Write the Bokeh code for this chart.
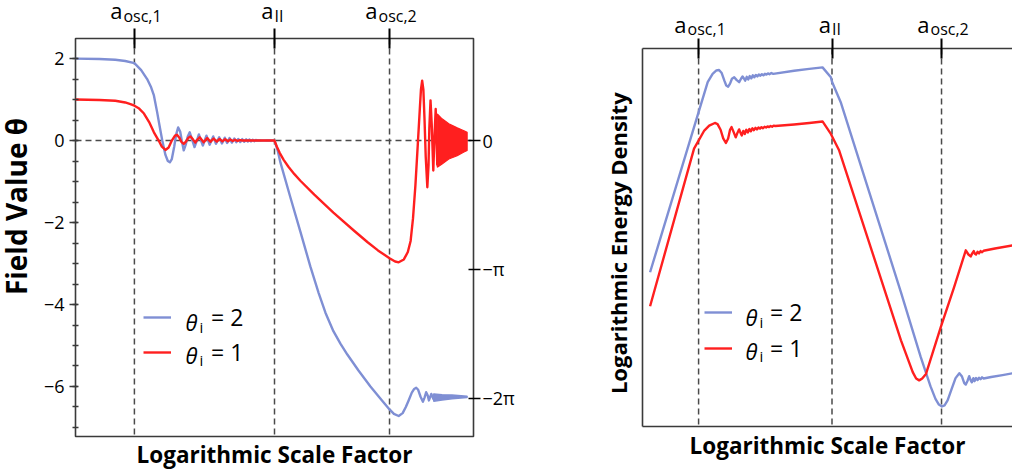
import numpy as np
from bokeh.plotting import figure
from bokeh.models import (Range1d, LinearAxis, FixedTicker, CustomJSTickFormatter,
                          Span, Label, Legend, LegendItem)
from bokeh.layouts import row, column
from bokeh.embed import file_html
from bokeh.resources import INLINE

# ---------------- data ----------------
transition_x = [0.148, 0.500, 0.789]
transition_sub = ["osc,1", "II", "osc,2"]
legend_values = ["= 2", "= 1"]

# left panel: field value theta
field_x_blue = [0.000, 0.060, 0.100, 0.125, 0.148, 0.165, 0.180, 0.190, 0.197, 0.205, 0.212, 0.218,
                0.226, 0.232, 0.237, 0.242, 0.248, 0.253, 0.258, 0.263, 0.267, 0.272, 0.277, 0.282,
                0.287, 0.293, 0.299, 0.305, 0.310, 0.315, 0.320, 0.329, 0.337, 0.346, 0.353, 0.361,
                0.368, 0.375, 0.381, 0.387, 0.393, 0.399, 0.404, 0.409, 0.414, 0.419, 0.424, 0.429,
                0.433, 0.437, 0.441, 0.445, 0.449, 0.453, 0.457, 0.500,
                0.508, 0.515, 0.540, 0.565, 0.590, 0.611, 0.628, 0.648, 0.666, 0.683, 0.711, 0.741,
                0.769, 0.789, 0.800, 0.812, 0.822, 0.830, 0.837, 0.845, 0.851, 0.856, 0.861, 0.867,
                0.873, 0.877, 0.881, 0.885, 0.888, 0.891, 0.894, 0.897, 0.900]
field_theta_blue = [2.00, 1.99, 1.97, 1.94, 1.89, 1.72, 1.50, 1.30, 1.10, 0.70, 0.32, 0.00,
                    -0.35, -0.50, -0.53, -0.45, -0.15, 0.15, 0.32, 0.22, 0.00, -0.24, -0.10, 0.10,
                    0.20, 0.02, -0.16, 0.00, 0.15, 0.01, -0.12, 0.12, -0.10, 0.10, -0.08, 0.08,
                    -0.07, 0.07, -0.06, 0.06, -0.05, 0.05, -0.04, 0.04, -0.035, 0.035, -0.03, 0.03,
                    -0.025, 0.025, -0.02, 0.02, -0.015, 0.015, 0.00, 0.00,
                    -0.24, -0.54, -1.39, -2.22, -3.07, -3.72, -4.20, -4.65, -4.96, -5.22, -5.61, -6.00,
                    -6.33, -6.56, -6.67, -6.72, -6.65, -6.50, -6.34, -6.15, -6.06, -6.03, -6.08, -6.25,
                    -6.37, -6.27, -6.14, -6.22, -6.34, -6.26, -6.18, -6.25, -6.32]
# dense late oscillation band of the blue curve (envelope)
band_x_blue = [0.900, 0.921, 0.946, 0.984]
band_upper_blue = [-6.18, -6.20, -6.21, -6.24]
band_lower_blue = [-6.36, -6.33, -6.30, -6.27]

field_x_red = [0.000, 0.060, 0.100, 0.125, 0.138, 0.148, 0.160, 0.172, 0.185, 0.197, 0.209, 0.217,
               0.226, 0.234, 0.242, 0.250, 0.255, 0.261, 0.266, 0.272, 0.278, 0.283, 0.289, 0.295,
               0.301, 0.306, 0.312, 0.322, 0.331, 0.339, 0.347, 0.355, 0.362, 0.369, 0.376, 0.383,
               0.389, 0.395, 0.401, 0.407, 0.413, 0.420, 0.500,
               0.506, 0.513, 0.523, 0.535, 0.550, 0.565, 0.600, 0.648, 0.700, 0.734, 0.760, 0.789,
               0.803, 0.812, 0.825, 0.835, 0.842, 0.848, 0.854, 0.860, 0.865, 0.868, 0.871, 0.874,
               0.877, 0.880, 0.884, 0.887, 0.889, 0.892, 0.895, 0.899, 0.902, 0.905, 0.907, 0.909]
field_theta_red = [1.00, 0.99, 0.97, 0.93, 0.89, 0.85, 0.78, 0.66, 0.45, 0.20, 0.00, -0.15,
                   -0.23, -0.17, 0.00, 0.12, 0.14, 0.07, -0.03, -0.08, -0.02, 0.06, 0.10, 0.03,
                   -0.05, 0.02, 0.08, -0.04, 0.06, -0.03, 0.05, -0.025, 0.04, -0.02, 0.03, -0.015,
                   0.025, -0.01, 0.02, -0.01, 0.01, 0.00, 0.00,
                   -0.15, -0.30, -0.47, -0.64, -0.82, -0.98, -1.32, -1.76, -2.20, -2.48, -2.68, -2.87,
                   -2.95, -2.97, -2.90, -2.72, -2.45, -1.90, -1.10, -0.10, 0.75, 1.25, 1.46, 1.25,
                   0.50, -0.40, -1.14, -0.60, 0.30, 0.98, 0.40, -0.73, 0.10, 0.77, 0.10, -0.61]
# dense late oscillation "fan" of the red curve (envelope)
fan_x_red = [0.909, 0.921, 0.938, 0.959, 0.976, 0.984]
fan_upper_red = [0.65, 0.53, 0.41, 0.31, 0.24, 0.20]
fan_lower_red = [-0.65, -0.57, -0.45, -0.37, -0.28, -0.24]

# right panel: logarithmic energy density (arbitrary units 0..10)
energy_x_blue = [0.020, 0.172, 0.185, 0.195, 0.202, 0.209, 0.216, 0.221, 0.226, 0.231, 0.236, 0.242,
                 0.248, 0.255, 0.260, 0.264, 0.268, 0.271, 0.275, 0.279, 0.283, 0.287, 0.291, 0.295,
                 0.299, 0.303, 0.307, 0.311, 0.315, 0.319, 0.323, 0.327, 0.331, 0.335, 0.340, 0.345,
                 0.400, 0.440, 0.475, 0.497, 0.500, 0.523, 0.682, 0.734, 0.760, 0.773, 0.782, 0.790,
                 0.797, 0.805, 0.816, 0.826, 0.836, 0.843, 0.849, 0.853, 0.858, 0.862, 0.866, 0.869,
                 0.873, 0.876, 0.880, 0.884, 0.888, 0.892, 0.896, 0.900, 0.920, 0.950, 0.977]
energy_blue = [4.08, 9.11, 9.33, 9.42, 9.43, 9.35, 9.15, 9.02, 8.99, 9.07, 9.20, 9.24,
               9.17, 9.11, 9.20, 9.26, 9.20, 9.15, 9.25, 9.18, 9.27, 9.21, 9.29, 9.24,
               9.30, 9.26, 9.31, 9.28, 9.32, 9.29, 9.33, 9.31, 9.34, 9.32, 9.35, 9.33,
               9.41, 9.46, 9.50, 9.24, 9.12, 8.58, 3.55, 1.84, 1.06, 0.73, 0.58, 0.53,
               0.56, 0.69, 1.00, 1.28, 1.41, 1.32, 1.15, 1.11, 1.22, 1.33, 1.22, 1.17,
               1.28, 1.20, 1.28, 1.23, 1.29, 1.25, 1.30, 1.27, 1.31, 1.36, 1.41]
energy_x_red = [0.020, 0.136, 0.163, 0.176, 0.191, 0.198, 0.206, 0.213, 0.220, 0.226, 0.231, 0.235,
                0.240, 0.246, 0.251, 0.255, 0.259, 0.262, 0.266, 0.270, 0.274, 0.278, 0.282, 0.286,
                0.290, 0.294, 0.298, 0.302, 0.306, 0.310, 0.314, 0.318, 0.322, 0.326, 0.330, 0.334,
                0.338, 0.342, 0.346, 0.350, 0.400, 0.440, 0.475, 0.497, 0.519, 0.682, 0.713, 0.722,
                0.730, 0.738, 0.748, 0.787, 0.822, 0.853, 0.860, 0.866, 0.870, 0.874, 0.877, 0.880,
                0.884, 0.888, 0.892, 0.896, 0.900, 0.930, 0.977]
energy_red = [3.18, 7.35, 7.83, 7.96, 8.03, 8.00, 7.85, 7.62, 7.50, 7.62, 7.85, 7.92,
              7.80, 7.65, 7.78, 7.86, 7.76, 7.70, 7.82, 7.74, 7.85, 7.78, 7.87, 7.81,
              7.89, 7.84, 7.90, 7.86, 7.91, 7.88, 7.92, 7.89, 7.93, 7.91, 7.94, 7.92,
              7.95, 7.93, 7.96, 7.95, 7.99, 8.03, 8.07, 7.74, 7.30, 2.28, 1.44, 1.27,
              1.22, 1.27, 1.39, 2.63, 3.68, 4.66, 4.55, 4.50, 4.58, 4.64, 4.57, 4.55,
              4.62, 4.58, 4.64, 4.61, 4.65, 4.71, 4.79]

# ---------------- style ----------------
FONT = "Open Sans"
BLUE = "#7f8fd4"
RED = "#ff1f1f"
FRAME = "#3a3a3a"
DASH = "#4a4a4a"
LW = 2.4
NB = "\u00a0"
TITLE_W = 35          # width of the strip holding the left title


def add_label(p, x, y, text, size, style="normal", align="left", x_off=0, angle=0.0):
    # small empirical raise so that the text's baseline lands where intended
    p.add_layout(Label(x=x, y=y, text=text, text_font=FONT, text_font_size=f"{size}px",
                       text_font_style=style, text_align=align, text_baseline="alphabetic",
                       x_offset=x_off, y_offset=0.3 * size if angle == 0 else 0,
                       angle=angle, text_color="black"))


def strip_figure(width, height, left, right, x_range=None):
    s = figure(width=width, height=height,
               x_range=x_range if x_range is not None else Range1d(0, width),
               y_range=Range1d(0, height),
               output_backend="svg", toolbar_location=None,
               x_axis_location=None, y_axis_location=None,
               min_border_left=left, min_border_right=right, min_border_top=0, min_border_bottom=0)
    s.outline_line_color = None
    s.grid.visible = False
    return s


def top_labels(s, y_base, y_sub):
    for xv, sub in zip(transition_x, transition_sub):
        split = -1 if sub == "II" else -12
        add_label(s, xv, y_base, "a", 22, align="right", x_off=split)
        add_label(s, xv, y_sub, sub, 16, align="left", x_off=split + 1)


def top_tick_axis(p, line_color):
    # transition markers drawn as (label-free) minor ticks of the top axis
    ax = LinearAxis(ticker=FixedTicker(ticks=[], minor_ticks=transition_x),
                    minor_tick_in=10, minor_tick_out=10, minor_tick_line_color="black",
                    minor_tick_line_width=2, major_tick_line_color=None, major_tick_out=0,
                    major_label_standoff=0,
                    axis_line_color=line_color, axis_line_width=1.6)
    p.add_layout(ax, "above")


def title_axis(p, side, text, size, standoff, line_color):
    ax = LinearAxis(ticker=FixedTicker(ticks=[]), major_tick_out=0, minor_tick_out=0,
                    major_tick_line_color=None, minor_tick_line_color=None,
                    major_label_standoff=0,
                    axis_line_color=line_color, axis_line_width=1.6,
                    axis_label=text, axis_label_standoff=standoff,
                    axis_label_text_font=FONT, axis_label_text_font_size=f"{size}px",
                    axis_label_text_font_style="bold", axis_label_text_color="black")
    p.add_layout(ax, side)
    return ax


def make_legend(p, renderers, loc, spacing, standoff):
    leg = Legend(items=[LegendItem(label=t, renderers=[r]) for t, r in zip(legend_values, renderers)],
                 location=loc, glyph_width=28, glyph_height=20, label_height=20,
                 label_standoff=standoff, label_text_font=FONT, label_text_font_size="23px",
                 label_text_color="black",
                 spacing=spacing, padding=0, margin=0, border_line_color=None,
                 background_fill_alpha=0)
    p.add_layout(leg)


# ---------------- left panel ----------------
X1 = lambda px: (px - 75) / 398.0
Y1 = lambda py: (140 - py) / 41.0

p1 = figure(width=560 - TITLE_W, height=444, x_range=Range1d(0, 1), y_range=Range1d(-7.22, 2.49),
            output_backend="svg", toolbar_location=None,
            x_axis_location=None, y_axis_location=None,
            min_border_left=75 - TITLE_W, min_border_right=87, min_border_top=10,
            min_border_bottom=36)
p1.grid.visible = False
p1.outline_line_color = FRAME
p1.outline_line_width = 1.6

left_ax = LinearAxis(ticker=FixedTicker(ticks=[-6, -4, -2, 0, 2],
                                        minor_ticks=list(np.arange(-7, 2.01, 0.5))),
                     major_label_overrides={-6: "\u22126", -4: "\u22124", -2: "\u22122", 0: "0", 2: "2"},
                     major_label_text_font=FONT, major_label_text_font_size="18px",
                     major_label_text_color="black",
                     major_label_standoff=5, major_tick_out=6, major_tick_in=2,
                     minor_tick_out=3, minor_tick_in=3,
                     major_tick_line_color=FRAME, minor_tick_line_color=FRAME,
                     major_tick_line_width=1.5, minor_tick_line_width=1.5, axis_line_color=None)
p1.add_layout(left_ax, "left")

pi_fmt = CustomJSTickFormatter(code="""
if (Math.abs(tick) < 1e-6) { return '0'; }
if (Math.abs(tick + Math.PI) < 1e-3) { return '\u2212\u03c0'; }
return '\u22122\u03c0';
""")
right_ax = LinearAxis(ticker=FixedTicker(ticks=[0, -np.pi, -2 * np.pi]), formatter=pi_fmt,
                      major_label_text_font=FONT, major_label_text_font_size="18px",
                      major_label_text_color="black",
                      major_label_standoff=2, major_tick_out=7, major_tick_in=5,
                      major_tick_line_color="black", major_tick_line_width=1.5,
                      minor_tick_line_color=None, axis_line_color=None)
p1.add_layout(right_ax, "right")
top_tick_axis(p1, None)
title_axis(p1, "below", "Logarithmic Scale Factor", 22.5, 2, None)

for xv in transition_x:
    p1.add_layout(Span(location=xv, dimension="height", line_color=DASH, line_dash="6 4",
                       line_width=1.5, level="underlay"))
p1.add_layout(Span(location=0, dimension="width", line_color=DASH, line_dash="6 4",
                   line_width=1.5, level="underlay"))

rb1 = p1.line(field_x_blue, field_theta_blue, line_color=BLUE, line_width=LW, line_join="round")
p1.patch(band_x_blue + band_x_blue[::-1], band_upper_blue + band_lower_blue[::-1],
         fill_color=BLUE, line_color=BLUE, line_width=1.5)
rr1 = p1.line(field_x_red, field_theta_red, line_color=RED, line_width=LW, line_join="round")
p1.patch(fan_x_red + fan_x_red[::-1], fan_upper_red + fan_lower_red[::-1],
         fill_color=RED, line_color=RED, line_width=1.2)

make_legend(p1, [rb1, rr1], (68, 68), 3, 40)
for yb, ys in zip([Y1(328), Y1(361)], [Y1(331), Y1(364)]):
    add_label(p1, X1(185), yb, "\u03b8", 22, style="italic")
    add_label(p1, X1(199), ys, "i", 15)

s1 = strip_figure(560 - TITLE_W, 28, 75 - TITLE_W, 87, x_range=p1.x_range)
top_labels(s1, 12.3, 7.3)

t1 = strip_figure(TITLE_W, 472, 0, 0)
add_label(t1, 15, 472 - 206, "Field Value \u03b8", 28, style="bold", align="center",
          angle=np.pi / 2)

# ---------------- right panel ----------------
X2 = lambda px: (px - 642) / 379.0
Y2 = lambda py: (426 - py) / 37.8

p2 = figure(width=452, height=434, x_range=Range1d(0, 370 / 379.0), y_range=Range1d(0, 10),
            output_backend="svg", toolbar_location=None,
            x_axis_location=None, y_axis_location=None,
            min_border_left=82, min_border_right=0, min_border_top=10, min_border_bottom=46)
p2.grid.visible = False
p2.outline_line_color = None
title_axis(p2, "left", "Logarithmic Energy Density" + NB * 2, 22, 10, FRAME)
title_axis(p2, "below", "Logarithmic Scale Factor", 22.5, 3, FRAME)
top_tick_axis(p2, FRAME)

for xv in transition_x:
    p2.add_layout(Span(location=xv, dimension="height", line_color=DASH, line_dash="6 4",
                       line_width=1.5, level="underlay"))

rb2 = p2.line(energy_x_blue, energy_blue, line_color=BLUE, line_width=LW, line_join="round")
rr2 = p2.line(energy_x_red, energy_red, line_color=RED, line_width=LW, line_join="round")

make_legend(p2, [rb2, rr2], (62, 62), 4, 38)
for yb, ys in zip([Y2(323), Y2(357)], [Y2(326), Y2(360)]):
    add_label(p2, X2(745), yb, "\u03b8", 22, style="italic")
    add_label(p2, X2(759), ys, "i", 15)

s2 = strip_figure(452, 38, 82, 0, x_range=p2.x_range)
top_labels(s2, 8, 4.7)

layout = row(t1, column(s1, p1), column(s2, p2))
open("out.html", "w").write(file_html(layout, INLINE))
